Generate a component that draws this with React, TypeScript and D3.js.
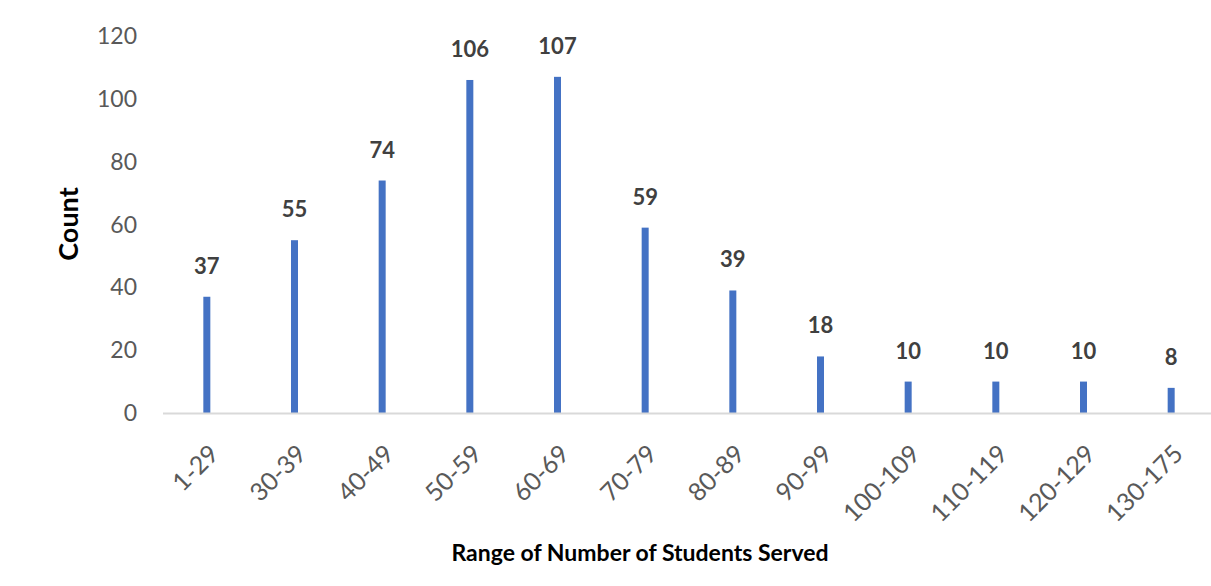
import * as d3 from "d3";
import { useEffect, useRef } from "react";

const categories = [
  "1-29", "30-39", "40-49", "50-59", "60-69", "70-79",
  "80-89", "90-99", "100-109", "110-119", "120-129", "130-175",
];
const counts = [37, 55, 74, 106, 107, 59, 39, 18, 10, 10, 10, 8];
const yTicks = [0, 20, 40, 60, 80, 100, 120];

export default function App() {
  const svgRef = useRef<SVGSVGElement>(null);

  useEffect(() => {
    const width = 1211;
    const height = 586;
    const margin = { left: 163, right: -4, top: 36, bottom: 173 };
    const font = "Lato, 'Open Sans', sans-serif";

    const svg = d3.select(svgRef.current);
    svg.selectAll("*").remove();
    svg.attr("width", width).attr("height", height);

    const x = d3
      .scaleBand<string>()
      .domain(categories)
      .range([margin.left, width - margin.right]);
    const y = d3
      .scaleLinear()
      .domain([0, 120])
      .range([height - margin.bottom, margin.top]);

    // y tick labels (no gridlines, no axis line)
    svg
      .append("g")
      .selectAll("text")
      .data(yTicks)
      .join("text")
      .attr("x", 137)
      .attr("y", (d) => y(d))
      .attr("dy", "0.35em")
      .attr("text-anchor", "end")
      .attr("font-family", font)
      .attr("font-size", 23)
      .attr("fill", "#595959")
      .text((d) => d);

    // bars
    const barW = 7;
    svg
      .append("g")
      .selectAll("rect")
      .data(counts)
      .join("rect")
      .attr("x", (d, i) => x(categories[i])! + x.bandwidth() / 2 - barW / 2)
      .attr("y", (d) => y(d))
      .attr("width", barW)
      .attr("height", (d) => y(0) - y(d))
      .attr("fill", "#4472c4");

    // x axis line
    svg
      .append("line")
      .attr("x1", margin.left)
      .attr("x2", width)
      .attr("y1", y(0) + 0.5)
      .attr("y2", y(0) + 0.5)
      .attr("stroke", "#d9d9d9")
      .attr("stroke-width", 2);

    // value labels
    svg
      .append("g")
      .selectAll("text")
      .data(counts)
      .join("text")
      .attr("x", (d, i) => x(categories[i])! + x.bandwidth() / 2)
      .attr("y", (d) => y(d) - 23)
      .attr("text-anchor", "middle")
      .attr("font-family", font)
      .attr("font-size", 22)
      .attr("font-weight", "bold")
      .attr("fill", "#404040")
      .text((d) => d);

    // rotated category labels
    svg
      .append("g")
      .selectAll("text")
      .data(categories)
      .join("text")
      .attr(
        "transform",
        (d) => `translate(${x(d)! + x.bandwidth() / 2 + 1},${y(0) + 30}) rotate(-45)`
      )
      .attr("text-anchor", "end")
      .attr("dy", "0.7em")
      .attr("font-family", font)
      .attr("font-size", 25)
      .attr("fill", "#595959")
      .text((d) => d);

    // axis titles
    svg
      .append("text")
      .attr("x", 640)
      .attr("y", 561)
      .attr("text-anchor", "middle")
      .attr("font-family", font)
      .attr("font-size", 23)
      .attr("font-weight", "bold")
      .attr("fill", "#000")
      .text("Range of Number of Students Served");

    svg
      .append("text")
      .attr("transform", "translate(78,224) rotate(-90)")
      .attr("text-anchor", "middle")
      .attr("font-family", font)
      .attr("font-size", 27)
      .attr("font-weight", "bold")
      .attr("fill", "#000")
      .text("Count");
  }, []);

  return (
    <svg
      ref={svgRef}
      style={{ position: "absolute", left: 0, top: 0, background: "#fff" }}
    ></svg>
  );
}
